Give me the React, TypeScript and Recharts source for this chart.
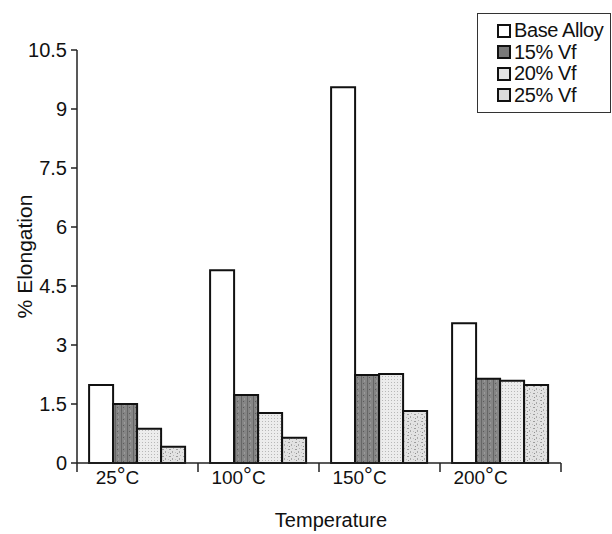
import React from "react";
import { BarChart, Bar, XAxis, YAxis } from "recharts";

// Elongation (%) at each test temperature
const temperatures = ["25°C", "100°C", "150°C", "200°C"];
const baseAlloy = [1.98, 4.9, 9.55, 3.55];
const vf15 = [1.5, 1.73, 2.24, 2.14];
const vf20 = [0.87, 1.27, 2.26, 2.09];
const vf25 = [0.41, 0.64, 1.32, 1.98];
const yTicks = [0, 1.5, 3, 4.5, 6, 7.5, 9, 10.5];

const seriesNames = ["Base Alloy", "15% Vf", "20% Vf", "25% Vf"];
const seriesFills = ["#ffffff", "url(#vf15)", "url(#vf20)", "url(#vf25)"];
const legendFills = ["#ffffff", "#7a7a7a", "#e4e4e4", "#dcdcdc"];

const data = temperatures.map((t, i) => ({
  name: t,
  base: baseAlloy[i],
  vf15: vf15[i],
  vf20: vf20[i],
  vf25: vf25[i],
}));

const FONT = "'Liberation Sans', Arial, Helvetica, sans-serif";

// category label shifted left, plus tick marks on the category edges
const TempTick = (props: any) => {
  const { x, y, payload, index, width } = props;
  const bw = width / temperatures.length;
  const left = x - bw / 2;
  const right = x + bw / 2;
  const label = String(payload.value);
  const num = label.replace("°C", "");
  return (
    <g>
      <line x1={left} y1={y} x2={left} y2={y + 9} stroke="#222" strokeWidth={1.5} />
      {index === temperatures.length - 1 && (
        <line x1={right} y1={y} x2={right} y2={y + 9} stroke="#222" strokeWidth={1.5} />
      )}
      <text
        x={x - 20}
        y={y + 21}
        textAnchor="middle"
        fontFamily={FONT}
        fontSize={19}
        fill="#111"
      >
        {num}
        <tspan fontSize={22} dy={-1}>°</tspan>
        <tspan dy={1}>C</tspan>
      </text>
    </g>
  );
};

const LegendBox = () => (
  <div
    style={{
      position: "absolute",
      left: 477,
      top: 13,
      width: 134,
      height: 100,
      border: "1.5px solid #333",
      background: "#fff",
      fontFamily: FONT,
      fontSize: 20,
      color: "#111",
      padding: "6px 0 0 19px",
      boxSizing: "border-box",
      letterSpacing: -0.4,
    }}
  >
    {seriesNames.map((n, i) => (
      <div key={n} style={{ display: "flex", alignItems: "center", height: 21.5 }}>
        <span
          style={{
            display: "inline-block",
            width: 10,
            height: 10,
            border: "2px solid #111",
            background: legendFills[i],
            marginRight: 3,
          }}
        />
        <span>{n}</span>
      </div>
    ))}
  </div>
);

export default function App() {
  return (
    <div style={{ position: "absolute", left: 0, top: 0, width: 612, height: 534, background: "#fff" }}>
      <BarChart
        width={612}
        height={534}
        data={data}
        margin={{ top: 50, right: 51, left: 0, bottom: 0 }}
        barCategoryGap="10%"
        barGap={0}
      >
        <defs>
          <pattern id="vf15" width="6" height="6" patternUnits="userSpaceOnUse">
            <rect width="6" height="6" fill="#858585" />
            <rect x="1" width="1" height="6" fill="#666" />
            <rect x="4" y="2" width="1" height="2" fill="#9a9a9a" />
            <rect x="3" y="5" width="1" height="1" fill="#5c5c5c" />
          </pattern>
          <pattern id="vf20" width="3" height="3" patternUnits="userSpaceOnUse">
            <rect width="3" height="3" fill="#ececec" />
            <rect x="1" y="1" width="1" height="1" fill="#b8b8b8" />
          </pattern>
          <pattern id="vf25" width="7" height="7" patternUnits="userSpaceOnUse">
            <rect width="7" height="7" fill="#e2e2e2" />
            <rect x="1" y="1" width="2" height="1" fill="#9d9d9d" />
            <rect x="4" y="3" width="1" height="2" fill="#a8a8a8" />
            <rect x="2" y="5" width="1" height="1" fill="#8f8f8f" />
            <rect x="5" y="0" width="1" height="1" fill="#b5b5b5" />
            <rect x="0" y="4" width="1" height="1" fill="#c0c0c0" />
          </pattern>
        </defs>
        <XAxis
          dataKey="name"
          height={71}
          interval={0}
          tickLine={false}
          tickSize={0}
          tickMargin={0}
          axisLine={{ stroke: "#222", strokeWidth: 1.5 }}
          tick={<TempTick />}
          label={{
            value: "Temperature",
            position: "insideBottom",
            offset: 7,
            dx: 12,
            style: { fontFamily: FONT, fontSize: 20, fill: "#111" },
          }}
        />
        <YAxis
          width={77}
          domain={[0, 10.5]}
          ticks={yTicks}
          interval={0}
          tickSize={6}
          tickMargin={4}
          axisLine={{ stroke: "#222", strokeWidth: 1.5 }}
          tickLine={{ stroke: "#222", strokeWidth: 1.5 }}
          tick={{ fontFamily: FONT, fontSize: 20, fill: "#111" }}
          label={{
            value: "% Elongation",
            angle: -90,
            position: "insideLeft",
            offset: 25,
            style: { fontFamily: FONT, fontSize: 21, fill: "#111", textAnchor: "middle" },
          }}
        />
        <Bar dataKey="base" name={seriesNames[0]} fill={seriesFills[0]} stroke="#111" strokeWidth={2} isAnimationActive={false} />
        <Bar dataKey="vf15" name={seriesNames[1]} fill={seriesFills[1]} stroke="#111" strokeWidth={2} isAnimationActive={false} />
        <Bar dataKey="vf20" name={seriesNames[2]} fill={seriesFills[2]} stroke="#111" strokeWidth={2} isAnimationActive={false} />
        <Bar dataKey="vf25" name={seriesNames[3]} fill={seriesFills[3]} stroke="#111" strokeWidth={2} isAnimationActive={false} />
      </BarChart>
      <LegendBox />
    </div>
  );
}
